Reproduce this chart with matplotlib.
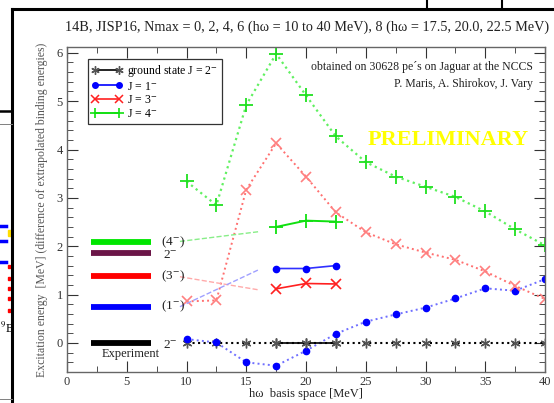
import matplotlib
matplotlib.use("Agg")
import matplotlib.pyplot as plt
from matplotlib.lines import Line2D
from matplotlib.patches import Rectangle

plt.rcParams["font.family"] = ["Liberation Serif", "DejaVu Serif"]
plt.rcParams["mathtext.fontset"] = "stix"

# Nmax = 0..6 runs, hw = 10 .. 40 MeV
hw = [10, 12.5, 15, 17.5, 20, 22.5, 25, 27.5, 30, 32.5, 35, 37.5, 40]
gs = [0.0, 0.0, 0.0, 0.0, 0.0, 0.0, 0.0, 0.0, 0.0, 0.0, 0.0, 0.0, 0.0]
j1 = [0.08, 0.01, -0.40, -0.47, -0.16, 0.19, 0.44, 0.59, 0.73, 0.92, 1.13, 1.08, 1.32]
j3 = [0.86, 0.88, 3.17, 4.13, 3.44, 2.70, 2.29, 2.04, 1.87, 1.72, 1.48, 1.18, 0.91]
j4 = [3.34, 2.85, 4.92, 5.98, 5.12, 4.27, 3.74, 3.44, 3.23, 3.02, 2.72, 2.35, 2.02]

# Nmax = 8 runs
hw8 = [17.5, 20.0, 22.5]
gs8 = [0.0, 0.0, 0.0]
j1_8 = [1.54, 1.54, 1.60]
j3_8 = [1.12, 1.23, 1.22]
j4_8 = [2.40, 2.53, 2.51]

# experiment
exp_E = [0.0, 0.75, 1.38, 1.86, 2.09]
exp_lab = ["2$^{-}$", "(1$^{-}$)", "(3$^{-}$)", "2$^{-}$", "(4$^{-}$)"]
exp_col = ["black", "#0000ff", "#ff0000", "#6b1548", "#00e600"]

# dashed guide lines from experiment to Nmax 8
guide_x = [9.45, 16.0]
guide_g = [2.10, 2.30]
guide_r = [1.37, 1.10]
guide_b = [0.75, 1.51]

fig = plt.figure(figsize=(5.54, 4.03), dpi=100)

# slide frame / neighbouring picture bits
fig.add_artist(Line2D([11.5 / 554, 11.5 / 554], [0, 1 - 9 / 403], color="black", lw=2.2))
fig.add_artist(Line2D([11.5 / 554, 1], [1 - 9 / 403, 1 - 9 / 403], color="black", lw=2.2))
fig.add_artist(Line2D([426.5 / 554, 426.5 / 554], [1 - 9 / 403, 1], color="black", lw=1.5))
fig.add_artist(Line2D([501.5 / 554, 501.5 / 554], [1 - 9 / 403, 1], color="black", lw=1.5))
fig.add_artist(Line2D([0, 11.5 / 554], [1 - 110.5 / 403, 1 - 110.5 / 403], color="black", lw=1.8))
fig.add_artist(Line2D([0, 11.5 / 554], [1 - 124 / 403, 1 - 124 / 403], color="gray", lw=0.7))
fig.add_artist(Line2D([0, 11.5 / 554], [1 - 399 / 403, 1 - 399 / 403], color="gray", lw=0.7))
for yy in [225.5, 240.5, 261.5]:
    fig.add_artist(Line2D([0, 6 / 554], [1 - yy / 403, 1 - yy / 403], color="#0000ff", lw=2.5))
fig.add_artist(Rectangle((7.5 / 554, 1 - 236 / 403), 3 / 554, 6 / 403, color="#ffdd00"))
for yy in [268, 280, 290, 300, 312]:
    fig.add_artist(Rectangle((7.5 / 554, 1 - yy / 403), 2.5 / 554, 3 / 403, color="#ff0000"))
fig.text(0.0, 1 - 328 / 403, "$^{9}$B", fontsize=9, va="center", ha="left")

ax = fig.add_axes([67 / 554, 31 / 403, 478 / 554, 325 / 403])

ax.plot(hw, gs, ":", color="black", lw=1.5, marker=(6, 2, 0), ms=7, mec="#555555", mfc="none")
ax.plot(hw, j1, ":", color="#6f6fff", lw=1.4, marker="o", ms=4.5, mfc="#0000ff", mec="#0000ff")
ax.plot(hw, j3, ":", color="#ff7070", lw=1.4, marker="x", ms=7, mew=1.2, mec="#ff8080")
ax.plot(hw, j4, ":", color="#60f060", lw=1.6, marker="+", ms=10, mew=1.3, mec="#20e020")

ax.plot(hw8, gs8, "-", color="black", lw=1.2, marker=(6, 2, 0), ms=7, mec="#555555")
ax.plot(hw8, j1_8, "-", color="#3030ff", lw=1.2, marker="o", ms=4.5, mfc="#0000ff", mec="#0000ff")
ax.plot(hw8, j3_8, "-", color="#ff2020", lw=1.2, marker="x", ms=7, mew=1.2)
ax.plot(hw8, j4_8, "-", color="#10e010", lw=1.4, marker="+", ms=10, mew=1.3)

ax.plot(guide_x, guide_g, "--", color="#88ee88", lw=1.0)
ax.plot(guide_x, guide_r, "--", color="#ffaaaa", lw=1.0)
ax.plot(guide_x, guide_b, "--", color="#a0a0ff", lw=1.0)

for e, lab, c in zip(exp_E, exp_lab, exp_col):
    ax.plot([2, 7], [e, e], "-", color=c, lw=4.2, solid_capstyle="butt")
    if lab.startswith("("):
        ax.text(7.9, e, lab, fontsize=9.5, va="center", ha="left", color="#222222")
    else:
        ax.text(8.0, e - 0.05, lab, fontsize=9.5, va="center", ha="left", color="#222222")
ax.text(5.3, -0.22, "Experiment", fontsize=9, ha="center", va="center", color="#222222")

ax.text(0.975, 0.94, "obtained on 30628 pe\u00b4s on Jaguar at the NCCS", transform=ax.transAxes,
        ha="right", va="center", fontsize=8.5, color="#222222")
ax.text(0.975, 0.886, "P. Maris, A. Shirokov, J. Vary", transform=ax.transAxes,
        ha="right", va="center", fontsize=8.5, color="#222222")
ax.text(0.797, 0.713, "PRELIMINARY", transform=ax.transAxes, ha="center", va="center",
        fontsize=16, fontweight="bold", color="#ffff00")

handles = [
    Line2D([], [], color="black", lw=1.2, marker=(6, 2, 0), ms=6, mec="#555555"),
    Line2D([], [], color="#0000ff", lw=1.2, marker="o", ms=4),
    Line2D([], [], color="#ff2020", lw=1.2, marker="x", ms=5.5, mew=1.1),
    Line2D([], [], color="#10e010", lw=1.4, marker="+", ms=7.5, mew=1.2),
]
labels = ["ground state J = 2$^{-}$", "J = 1$^{-}$", "J = 3$^{-}$", "J = 4$^{-}$"]
leg = ax.legend(handles, labels, loc="upper left", bbox_to_anchor=(0.043, 0.964),
                fontsize=8.5, frameon=True, fancybox=False, edgecolor="black",
                handlelength=2.6, handletextpad=0.4, labelspacing=0.15, borderpad=0.35,
                borderaxespad=0, numpoints=2)
leg.get_frame().set_linewidth(0.9)

ax.set_xlim(0, 40)
ax.set_ylim(-0.6, 6.12)
ax.set_xticks([0, 5, 10, 15, 20, 25, 30, 35, 40])
ax.set_xticks([2.5, 7.5, 12.5, 17.5, 22.5, 27.5, 32.5, 37.5], minor=True)
ax.set_yticks([0, 1, 2, 3, 4, 5, 6])
ax.set_yticks([-0.4, -0.2, 0.2, 0.4, 0.6, 0.8, 1.2, 1.4, 1.6, 1.8, 2.2, 2.4, 2.6, 2.8,
               3.2, 3.4, 3.6, 3.8, 4.2, 4.4, 4.6, 4.8, 5.2, 5.4, 5.6, 5.8], minor=True)
ax.tick_params(which="both", direction="in", top=True, right=True, labelsize=9, colors="#333333")
ax.tick_params(which="major", length=8, pad=3)
ax.tick_params(which="minor", length=4)
for s in ax.spines.values():
    s.set_color("#666666")
    s.set_linewidth(1.0)

ax.set_xlabel("h\u03c9  basis space [MeV]", fontsize=9, color="#222222", labelpad=0)
ax.set_ylabel("Excitation energy  [MeV] (difference of extrapolated binding energies)",
              fontsize=8.5, color="#555555", labelpad=6)

fig.text(307 / 554, 1 - 27 / 403,
         "14B, JISP16, Nmax = 0, 2, 4, 6 (h\u03c9 = 10 to 40 MeV), 8 (h\u03c9 = 17.5, 20.0, 22.5 MeV)",
         ha="center", va="center", fontsize=10.3, color="#222222")

fig.savefig("out.png", dpi=100)
